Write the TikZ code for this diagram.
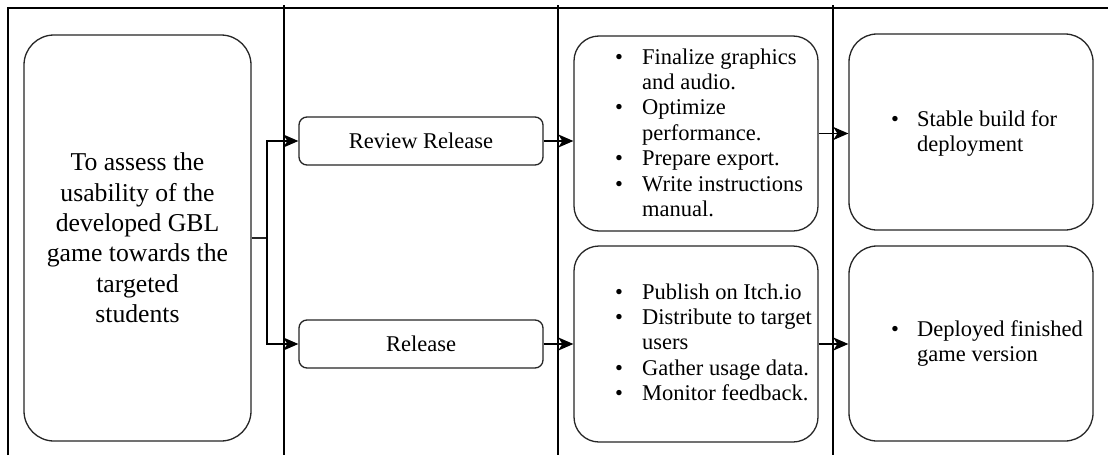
\documentclass[tikz,border=0pt]{standalone}
\usepackage{fontspec}
\setmainfont{Liberation Serif}
\usetikzlibrary{arrows.meta}
\begin{document}
\begin{tikzpicture}[x=1pt,y=-1pt,
  frame/.style={line width=1.3pt, black},
  bigbox/.style={draw=black!85, line width=1.3pt, rounded corners=25pt, inner sep=0pt},
  smallbox/.style={draw=black!85, line width=1.3pt, rounded corners=8pt, minimum width=244pt, minimum height=48pt, inner sep=0pt, font=\fontsize{22.5}{25.4}\selectfont},
  conn/.style={line width=1.3pt, black, arrows={-{Stealth[length=15pt,width=13pt,inset=4pt]}}},
  plain/.style={line width=1.3pt, black!85},
  listtext/.style={anchor=base west, inner sep=0pt, font=\fontsize{22.5}{25.4}\selectfont},
]
\fill[white] (0,0) rectangle (1108,455);
\useasboundingbox (0,0) rectangle (1108,455);

% frame and column dividers
\draw[frame] (8,455) -- (8,8) -- (1108,8);
\draw[frame] (284,5) -- (284,455);
\draw[frame] (558,5) -- (558,455);
\draw[frame] (833,5) -- (833,455);

% boxes
\node[bigbox, rounded corners=30pt, minimum width=227pt, minimum height=406pt,
      align=center, font=\fontsize{25.7}{30.4}\selectfont] (goal) at (137.5,238)
  {To assess the\\usability of the\\developed GBL\\game towards the\\targeted\\students};

\node[smallbox] (rr) at (421,141) {Review Release};
\node[smallbox] (rel) at (421,344) {Release};

\node[bigbox, minimum width=244pt, minimum height=195pt] (m1) at (696,133.5) {};
\node[bigbox, minimum width=244pt, minimum height=196pt] (m2) at (696,344) {};
\node[bigbox, rounded corners=28pt, minimum width=244pt, minimum height=196pt] (r1) at (971,132) {};
\node[bigbox, rounded corners=28pt, minimum width=244pt, minimum height=195pt] (r2) at (971,343.5) {};

% list texts
\node[listtext] (l1) at (615,64) {\begin{tabular}[t]{@{}p{27pt}@{}l@{}}
\textbullet & Finalize graphics\\ & and audio.\\
\textbullet & Optimize\\ & performance.\\
\textbullet & Prepare export.\\
\textbullet & Write instructions\\ & manual.\end{tabular}};
\node[listtext] (l2) at (615,299) {\begin{tabular}[t]{@{}p{27pt}@{}l@{}}
\textbullet & Publish on Itch.io\\
\textbullet & Distribute to target\\ & users\\
\textbullet & Gather usage data.\\
\textbullet & Monitor feedback.\end{tabular}};
\node[listtext] (l3) at (891,126) {\begin{tabular}[t]{@{}p{26pt}@{}l@{}}
\textbullet & Stable build for\\ & deployment\end{tabular}};
\node[listtext] (l4) at (891,336) {\begin{tabular}[t]{@{}p{26pt}@{}l@{}}
\textbullet & Deployed finished\\ & game version\end{tabular}};

% connectors
\coordinate (j) at (267,238);
\draw[plain] (goal.east) -- (j);
\draw[conn] (j) |- (rr.west);
\draw[conn] (j) |- (rel.west);
\draw[conn] (rr.east) -- (rr.east -| m1.west);
\draw[conn] (rel.east) -- (rel.east -| m2.west);
\draw[conn] (m1.east) -- (m1.east -| r1.west);
\draw[conn] (m2.east) -- (m2.east -| r2.west);
\end{tikzpicture}
\end{document}
